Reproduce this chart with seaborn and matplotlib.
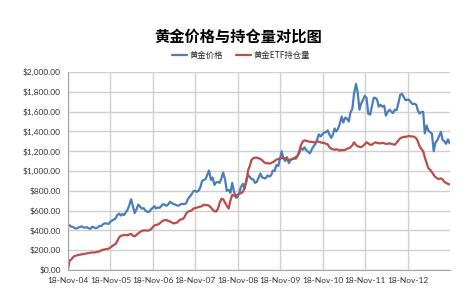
import matplotlib
matplotlib.use("Agg")
import matplotlib.pyplot as plt
import matplotlib.dates as mdates
from matplotlib.ticker import FuncFormatter, MultipleLocator
import pandas as pd
import seaborn as sns

# ---------------- data (semi-monthly readings) ----------------
start_date = "2004-11-18"
semi_monthly_start = "2004-12-01"
semi_monthly_end = "2013-11-15"

# gold price, USD/oz
gold_2004 = [445, 452, 438]
gold_2005 = [435, 422, 420, 428, 435, 442, 428, 430, 432, 420, 418, 438,
             430, 422, 430, 445, 445, 462, 472, 470, 465, 485, 500, 508]
gold_2006 = [520, 555, 570, 550, 565, 555, 585, 610, 660, 715, 640, 575,
             615, 660, 640, 620, 625, 598, 590, 585, 610, 625, 645, 622]
gold_2007 = [632, 628, 650, 665, 660, 648, 665, 690, 675, 665, 660, 652,
             650, 665, 668, 665, 675, 715, 740, 760, 795, 800, 790, 800]
gold_2008 = [835, 900, 910, 920, 965, 1005, 910, 935, 860, 885, 890, 880,
             930, 985, 910, 800, 810, 780, 880, 800, 730, 735, 780, 840]
gold_2009 = [870, 820, 920, 960, 940, 920, 915, 880, 890, 930, 975, 935,
             930, 925, 955, 945, 955, 1005, 1000, 1060, 1050, 1120, 1200, 1130]
gold_2010 = [1100, 1140, 1080, 1115, 1120, 1125, 1125, 1155, 1180, 1230, 1215, 1240,
             1210, 1195, 1180, 1215, 1250, 1270, 1315, 1370, 1350, 1370, 1390, 1390]
gold_2011 = [1410, 1370, 1335, 1370, 1430, 1400, 1430, 1480, 1550, 1490, 1540, 1530,
             1500, 1590, 1630, 1780, 1880, 1800, 1620, 1680, 1720, 1760, 1740, 1580]
gold_2012 = [1570, 1650, 1740, 1740, 1720, 1650, 1670, 1650, 1660, 1560, 1600, 1620,
             1600, 1585, 1620, 1615, 1690, 1770, 1780, 1750, 1715, 1720, 1720, 1695]
gold_2013 = [1675, 1680, 1670, 1610, 1580, 1595, 1600, 1380, 1460, 1410, 1390, 1380,
             1200, 1285, 1310, 1350, 1395, 1315, 1300, 1275, 1320, 1280]

# gold ETF holdings
etf_2004 = [10, 95, 105]
etf_2005 = [130, 142, 148, 152, 155, 158, 162, 165, 168, 172, 175, 178,
            176, 180, 185, 188, 200, 205, 208, 212, 215, 225, 240, 252]
etf_2006 = [262, 290, 330, 345, 350, 352, 355, 350, 360, 365, 345, 340,
            355, 370, 385, 395, 400, 400, 398, 400, 410, 430, 450, 455]
etf_2007 = [460, 470, 488, 500, 502, 505, 495, 490, 480, 470, 475, 480,
            500, 510, 515, 530, 570, 590, 595, 600, 620, 625, 630, 635]
etf_2008 = [640, 645, 660, 655, 655, 650, 630, 610, 595, 590, 620, 680,
            720, 715, 680, 650, 620, 700, 760, 750, 750, 760, 770, 775]
etf_2009 = [790, 830, 900, 1010, 1050, 1110, 1130, 1135, 1135, 1130, 1120, 1110,
            1090, 1080, 1080, 1075, 1080, 1090, 1100, 1115, 1120, 1125, 1130, 1130]
etf_2010 = [1130, 1125, 1110, 1115, 1120, 1130, 1140, 1150, 1200, 1260, 1300, 1310,
            1305, 1300, 1295, 1295, 1290, 1290, 1300, 1295, 1290, 1285, 1285, 1275]
etf_2011 = [1270, 1240, 1225, 1220, 1215, 1220, 1215, 1205, 1215, 1210, 1215, 1225,
            1230, 1240, 1260, 1290, 1265, 1250, 1245, 1240, 1255, 1270, 1290, 1280]
etf_2012 = [1265, 1265, 1280, 1290, 1285, 1280, 1280, 1285, 1280, 1275, 1275, 1280,
            1275, 1270, 1265, 1285, 1310, 1330, 1340, 1345, 1345, 1350, 1355, 1350]
etf_2013 = [1350, 1345, 1330, 1300, 1250, 1225, 1200, 1140, 1080, 1030, 1010, 990,
            960, 940, 925, 920, 925, 915, 890, 880, 870, 865]

series_names = ["黄金价格", "黄金ETF持仓量"]
tick_years = list(range(2004, 2013))
title_text = "黄金价格与持仓量对比图"

gold = (gold_2004 + gold_2005 + gold_2006 + gold_2007 + gold_2008 + gold_2009 +
        gold_2010 + gold_2011 + gold_2012 + gold_2013)
etf = (etf_2004 + etf_2005 + etf_2006 + etf_2007 + etf_2008 + etf_2009 +
       etf_2010 + etf_2011 + etf_2012 + etf_2013)
dates = [pd.Timestamp(start_date)] + list(
    pd.date_range(semi_monthly_start, semi_monthly_end, freq="SMS"))

df = pd.DataFrame({
    "date": dates + dates,
    "value": gold + etf,
    "series": [series_names[0]] * len(gold) + [series_names[1]] * len(etf),
})

# ---------------- plot ----------------
sns.set_style("white")
plt.rcParams["font.family"] = ["Noto Sans CJK SC", "DejaVu Sans"]

fig = plt.figure(figsize=(4.77, 2.99), dpi=100)
ax = fig.add_axes([0.1426, 0.097, 0.8008, 0.662])

sns.lineplot(data=df, x="date", y="value", hue="series", hue_order=series_names,
             palette=["#4a7ebb", "#be4b48"], linewidth=1.6, estimator=None,
             ax=ax, legend=True)

ax.set_xlim(pd.Timestamp("2004-11-18"), pd.Timestamp("2013-11-18"))
ax.set_ylim(0, 2000)
ax.yaxis.set_major_locator(MultipleLocator(200))
ax.yaxis.set_major_formatter(FuncFormatter(lambda v, p: "${:,.2f}".format(v)))
ax.set_xticks([pd.Timestamp(f"{y}-11-18") for y in tick_years])
ax.xaxis.set_major_formatter(mdates.DateFormatter("%d-%b-%y"))
ax.set_xlabel("")
ax.set_ylabel("")

ax.grid(True, color="#cfcfcf", linewidth=1.0)
ax.set_axisbelow(True)
for side in ["top", "right"]:
    ax.spines[side].set_visible(False)
for side in ["left", "bottom"]:
    ax.spines[side].set_color("#a6a6a6")
    ax.spines[side].set_linewidth(0.8)
ax.tick_params(axis="both", which="major", length=3, width=0.8, color="#a6a6a6",
               direction="out", labelsize=6, labelcolor="#333333", pad=2)
for lab in ax.get_xticklabels() + ax.get_yticklabels():
    lab.set_family(["Lato", "DejaVu Sans"])

sns.move_legend(ax, loc="center", bbox_to_anchor=(0.505, 0.816),
                bbox_transform=fig.transFigure, ncol=2, frameon=False,
                title=None, fontsize=6, handlelength=1.8, columnspacing=1.6,
                handletextpad=0.3)

fig.text(0.5, 0.876, title_text, ha="center", va="center", fontsize=11,
         fontweight="bold", color="#000000")

fig.savefig("out.png", dpi=100)
